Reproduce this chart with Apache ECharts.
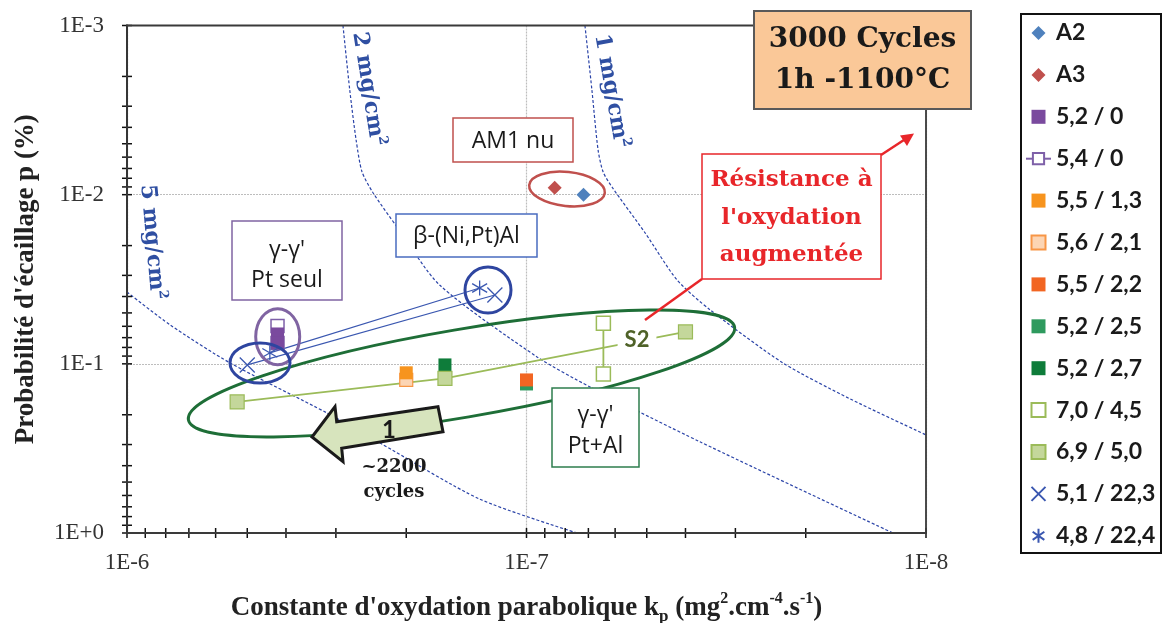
<!DOCTYPE html>
<html><head><meta charset="utf-8">
<script src="https://cdn.jsdelivr.net/npm/echarts@6/dist/echarts.min.js"></script>
<style>html,body{margin:0;padding:0;background:#fff}#c{width:1163px;height:623px}</style>
</head><body><div id="c"></div>
<script>
// ---------------- DATA ----------------
const xDecades = [1e-8, 1e-7, 1e-6];
const yDecades = [1e-3, 1e-2, 1e-1, 1];
const minorFactors = [2, 3, 4, 5, 6, 7, 8, 9];

const legendNames = ['A2', 'A3', '5,2 / 0', '5,4 / 0', '5,5 / 1,3', '5,6 / 2,1', '5,5 / 2,2',
  '5,2 / 2,5', '5,2 / 2,7', '7,0 / 4,5', '6,9 / 5,0', '5,1 / 22,3', '4,8 / 22,4'];

// [kp, p]
const A2 = [[7.2e-8, 0.0100]];
const A3 = [[8.5e-8, 0.0091]];
const s52_0 = [[4.2e-7, 0.0666], [4.2e-7, 0.0752]];
const s54_0 = [[4.2e-7, 0.0597], [4.2e-7, 0.0752]];
const s55_13 = [[2.0e-7, 0.113]];
const s56_21 = [[2.0e-7, 0.1245]];
const s55_22 = [[1.0e-7, 0.1245]];
const s52_25 = [[1.0e-7, 0.1315]];
const s52_27 = [[1.6e-7, 0.1015]];
const s70_45 = [[6.42e-8, 0.0575], [6.42e-8, 0.1147]];
const s69_50 = [[5.3e-7, 0.168], [1.6e-7, 0.122], [4.0e-8, 0.0648]];
const s51_223 = [[5.0e-7, 0.1015], [1.2e-7, 0.0392]];
const s48_224 = [[4.39e-7, 0.0862], [1.31e-7, 0.0356]];

// iso mass-gain curves
const curve1mg = [[7.14e-8, 1.0e-3], [6.86e-8, 2.40e-3], [6.62e-8, 5.44e-3], [6.43e-8, 7.34e-3],
  [6.11e-8, 9.01e-3], [5.05e-8, 0.0168], [4.20e-8, 0.0319], [3.47e-8, 0.0480], [2.28e-8, 0.0988],
  [1.55e-8, 0.161], [1.0e-8, 0.263]];
const curve2mg = [[2.88e-7, 1.0e-3], [2.77e-7, 2.40e-3], [2.67e-7, 4.75e-3], [2.58e-7, 7.34e-3],
  [2.42e-7, 9.77e-3], [2.11e-7, 0.0155], [1.65e-7, 0.0342], [9.41e-8, 0.0910], [6.93e-8, 0.137],
  [3.68e-8, 0.289], [1.21e-8, 1.0]];
const curve5mg = [[1.0e-6, 0.0376], [7.80e-7, 0.0589], [5.52e-7, 0.0988], [3.16e-7, 0.195],
  [2.33e-7, 0.293], [1.31e-7, 0.630], [7.47e-8, 1.0]];

// ---------------- CHART ----------------
const chart = echarts.init(document.getElementById('c'), null, {renderer: 'canvas'});

const xTicks = [], yTicks = [];
xDecades.forEach((d, i) => { xTicks.push([d, 1]); if (i < xDecades.length - 1) minorFactors.forEach(f => xTicks.push([d * f, 1])); });
yDecades.forEach((d, i) => { yTicks.push([1e-6, d]); if (i < yDecades.length - 1) minorFactors.forEach(f => yTicks.push([1e-6, d * f])); });

const fmt = v => { const e = Math.round(Math.log10(v)); return '1E' + (e >= 0 ? '+' + e : e); };

const sq = 'path://M0,0H10V10H0Z';
const dia = 'path://M5,0L10,5L5,10L0,5Z';
const cross = 'path://M0,0L10,10M10,0L0,10';
const star = 'path://M5,-1L5,11M0,1.5L10,8.5M0,8.5L10,1.5';
const BLUE = '#3A57B0';

function marker(name, data, sym, size, style, z) {
  return {name, type: 'scatter', data, symbol: sym, symbolSize: size, itemStyle: Object.assign({opacity: 1}, style), z: z || 3, silent: true};
}
function connector(name, data, color, width) {
  return {name, type: 'line', data, symbol: 'none', lineStyle: {color, width}, z: 2, silent: true};
}
function curve(name, data) {
  return {name, type: 'line', data, symbol: 'none', smooth: 0.25,
    lineStyle: {color: '#2B44A8', width: 1.2, type: [3, 2]}, z: 1, silent: true};
}

const serif = 'Liberation Serif';
const sb = {fontFamily: serif, fontWeight: 'bold', color: '#222'};

const option = {
  animation: false,
  backgroundColor: '#fff',
  grid: {left: 127, right: 237, top: 25.5, bottom: 90, show: false, outerBoundsMode: 'none'},
  xAxis: {
    type: 'log', logBase: 10, min: 1e-8, max: 1e-6, inverse: true,
    axisLine: {show: true, onZero: false, lineStyle: {color: '#111', width: 2}},
    axisTick: {show: false}, minorTick: {show: false},
    splitLine: {show: true, lineStyle: {color: '#BDBDBD', width: 1.2, type: [2, 1]}},
    axisLabel: {formatter: fmt, fontFamily: serif, fontSize: 23, color: '#333', margin: 18},
    name: "{b|Constante d'oxydation parabolique k}{sub|p}{b| (mg}{sup|2}{b|.cm}{sup|-4}{b|.s}{sup|-1}{b|)}",
    nameLocation: 'middle', nameGap: 58,
    nameTextStyle: {rich: {
      b: Object.assign({fontSize: 27, lineHeight: 34}, sb),
      sub: Object.assign({fontSize: 17, lineHeight: 17, verticalAlign: 'bottom'}, sb),
      sup: Object.assign({fontSize: 16, lineHeight: 16, verticalAlign: 'top'}, sb)
    }}
  },
  yAxis: {
    type: 'log', logBase: 10, min: 1e-3, max: 1, inverse: true,
    axisLine: {show: true, onZero: false, lineStyle: {color: '#111', width: 2}},
    axisTick: {show: false}, minorTick: {show: false},
    splitLine: {show: true, lineStyle: {color: '#BDBDBD', width: 1.2, type: [2, 1]}},
    axisLabel: {formatter: fmt, fontFamily: serif, fontSize: 23, color: '#333', margin: 23},
    name: "{b|Probabilité d'écaillage p (%)}",
    nameLocation: 'middle', nameGap: 84,
    nameTextStyle: {rich: {b: Object.assign({fontSize: 27, lineHeight: 34}, sb)}}
  },
  legend: {
    show: true, orient: 'vertical', left: 1025, top: 21, padding: 0,
    itemWidth: 25, itemHeight: 14, itemGap: 17.9, symbolKeepAspect: true, selectedMode: false,
    textStyle: {fontFamily: 'Lato', fontWeight: 'bold', fontSize: 23, lineHeight: 24, color: '#1a1a1a'},
    data: [
      {name: 'A2', icon: dia}, {name: 'A3', icon: dia}, {name: '5,2 / 0', icon: sq}, {name: '5,4 / 0'},
      {name: '5,5 / 1,3', icon: sq}, {name: '5,6 / 2,1', icon: sq}, {name: '5,5 / 2,2', icon: sq},
      {name: '5,2 / 2,5', icon: sq}, {name: '5,2 / 2,7', icon: sq}, {name: '7,0 / 4,5', icon: sq},
      {name: '6,9 / 5,0', icon: sq}, {name: '5,1 / 22,3', icon: cross}, {name: '4,8 / 22,4', icon: star}
    ]
  },
  series: [
    curve('c1', curve1mg), curve('c2', curve2mg), curve('c5', curve5mg),
    connector('l54', s54_0, '#7E60A8', 1.5),
    connector('l70', s70_45, '#9BBB59', 1.8),
    connector('l69', s69_50, '#9BBB59', 1.8),
    connector('l51', s51_223, BLUE, 1.2),
    connector('l48', s48_224, BLUE, 1.2),
    marker('A2', A2, 'diamond', 14, {color: '#4F81BD'}),
    marker('A3', A3, 'diamond', 14, {color: '#C0504D'}),
    {name: '5,4 / 0', type: 'line', data: s54_0, symbol: 'rect', symbolSize: 13, showAllSymbol: true,
      itemStyle: {color: '#fff', borderColor: '#7E60A8', borderWidth: 1.5, opacity: 1}, lineStyle: {color: '#7E60A8', width: 1.5}, z: 3, silent: true},
    marker('5,2 / 0', s52_0, 'rect', 13, {color: '#7A4A9E'}, 4),
    marker('5,6 / 2,1', s56_21, 'rect', 13, {color: '#FCD5B4', borderColor: '#F79646', borderWidth: 1.2}, 3),
    marker('5,5 / 1,3', s55_13, 'rect', 13, {color: '#F7941E'}, 4),
    marker('5,2 / 2,5', s52_25, 'rect', 13, {color: '#2E9A5E'}, 3),
    marker('5,5 / 2,2', s55_22, 'rect', 13, {color: '#F26522'}, 4),
    marker('5,2 / 2,7', s52_27, 'rect', 13, {color: '#0E7C3A'}, 3),
    marker('7,0 / 4,5', s70_45, 'rect', 14, {color: '#fff', borderColor: '#9BBB59', borderWidth: 1.5}, 3),
    marker('6,9 / 5,0', s69_50, 'rect', 14, {color: '#C4D79B', borderColor: '#9BBB59', borderWidth: 1.2}, 4),
    marker('5,1 / 22,3', s51_223, cross, 15, {color: 'transparent', borderColor: BLUE, borderWidth: 1.3}, 4),
    marker('4,8 / 22,4', s48_224, star, 15, {color: 'transparent', borderColor: BLUE, borderWidth: 1.3}, 4),
    {name: 'xticks', type: 'custom', data: xTicks, clip: false, silent: true, z: 5,
      renderItem: (p, api) => { const c = api.coord([api.value(0), api.value(1)]);
        return {type: 'line', shape: {x1: c[0], y1: c[1] - 5, x2: c[0], y2: c[1] + 5}, style: {stroke: '#111', lineWidth: 1.5}}; }},
    {name: 'yticks', type: 'custom', data: yTicks, clip: false, silent: true, z: 5,
      renderItem: (p, api) => { const c = api.coord([api.value(0), api.value(1)]);
        return {type: 'line', shape: {x1: c[0] - 5, y1: c[1], x2: c[0] + 5, y2: c[1]}, style: {stroke: '#111', lineWidth: 1.5}}; }}
  ],
  graphic: []
};

// ---------------- ANNOTATIONS ----------------
const G = option.graphic;
const sans = 'Open Sans';
function box(x, y, w, h, stroke, lines, cx, ys, font) {
  G.push({type: 'rect', shape: {x, y, width: w, height: h}, style: {fill: '#fff', stroke, lineWidth: 1.5}, z: 60});
  lines.forEach((t, i) => G.push({type: 'text', x: cx, y: ys[i], z: 61,
    style: Object.assign({text: t, align: 'center', verticalAlign: 'middle', fill: '#1a1a1a', fontFamily: sans, fontSize: 23}, font || {})}));
}
function ell(cx, cy, rx, ry, rot, stroke, lw) {
  G.push({type: 'ellipse', x: cx, y: cy, rotation: rot, shape: {cx: 0, cy: 0, rx, ry}, style: {fill: 'none', stroke, lineWidth: lw}, z: 50});
}
function rotLabel(text, cx, cy, rotDeg) {
  G.push({type: 'text', x: cx, y: cy, rotation: -rotDeg * Math.PI / 180, z: 40,
    style: {text: '{a|' + text + '}{s|2}', align: 'center', verticalAlign: 'middle',
      rich: {a: {fontFamily: 'DejaVu Serif', fontWeight: 'bold', fontSize: 22, lineHeight: 26, fill: '#2F4FA2', color: '#2F4FA2'},
             s: {fontFamily: 'DejaVu Serif', fontWeight: 'bold', fontSize: 13, lineHeight: 13, verticalAlign: 'top', fill: '#2F4FA2', color: '#2F4FA2'}}}});
}

// plot frame
G.push({type: 'rect', z: 30, shape: {x: 127, y: 25.5, width: 799, height: 507.5}, style: {fill: 'none', stroke: '#3a3a3a', lineWidth: 1.8}});

// ellipses
ell(461.5, 373.5, 277, 44, 0.168, '#1E6E37', 3);
ell(567, 189, 38, 17, -0.105, '#C0504D', 2.5);
ell(277.7, 336.7, 22, 28, 0, '#8064A2', 3);
ell(260, 363, 30, 20, 0, '#2E45A0', 3);
ell(488, 290, 23, 23, 0, '#2E45A0', 3);

// curve labels
rotLabel('5 mg/cm', 152, 242, 85);
rotLabel('2 mg/cm', 368, 89, 81);
rotLabel('1 mg/cm', 611, 91, 80);

// text boxes
box(453, 118, 120, 44, '#C0504D', ['AM1 nu'], 513, [141]);
box(396, 214, 141, 43, '#4A6CC0', ['β-(Ni,Pt)Al'], 466.5, [236]);
box(232, 221, 110, 79, '#8064A2', ["γ-γ'", 'Pt seul'], 287, [250, 280]);
box(552, 388, 87, 79, '#2E7D4E', ["γ-γ'", 'Pt+Al'], 595.5, [415, 446]);

// S2 label
G.push({type: 'text', x: 637, y: 340, z: 45, style: {text: 'S2', align: 'center', verticalAlign: 'middle',
  fontFamily: 'Lato', fontWeight: 'bold', fontSize: 22, fill: '#4F6228', backgroundColor: '#fff', padding: [2, 7]}});

// big arrow
G.push({type: 'polygon', z: 70, shape: {points: [[312, 437], [335, 406.7], [336.7, 421.7], [438, 406.7], [443, 431.7], [341.7, 448.3], [343, 461.7]]},
  style: {fill: '#D7E4BD', stroke: '#1a1a1a', lineWidth: 3, lineJoin: 'miter'}});
G.push({type: 'text', x: 389, y: 430, z: 71, style: {text: '1', align: 'center', verticalAlign: 'middle', fontFamily: 'Lato', fontWeight: 'bold', fontSize: 24, fill: '#1a1a1a'}});
G.push({type: 'text', x: 394, y: 467, z: 71, style: {text: '~2200', align: 'center', verticalAlign: 'middle', fontFamily: 'DejaVu Serif', fontWeight: 'bold', fontSize: 18, fill: '#1a1a1a'}});
G.push({type: 'text', x: 394, y: 492, z: 71, style: {text: 'cycles', align: 'center', verticalAlign: 'middle', fontFamily: 'DejaVu Serif', fontWeight: 'bold', fontSize: 18, fill: '#1a1a1a'}});

// 3000 cycles box
G.push({type: 'rect', z: 80, shape: {x: 754, y: 11, width: 217, height: 98}, style: {fill: '#FAC898', stroke: '#595959', lineWidth: 2}});
G.push({type: 'text', x: 862.5, y: 40, z: 81, style: {text: '3000 Cycles', align: 'center', verticalAlign: 'middle', fontFamily: 'DejaVu Serif', fontWeight: 'bold', fontSize: 28, fill: '#1a1a1a'}});
G.push({type: 'text', x: 862.5, y: 81, z: 81, style: {text: '1h -1100°C', align: 'center', verticalAlign: 'middle', fontFamily: 'DejaVu Serif', fontWeight: 'bold', fontSize: 28, fill: '#1a1a1a'}});

// résistance box + arrows
const RED = '#E8262A';
G.push({type: 'line', z: 65, shape: {x1: 702, y1: 279, x2: 645, y2: 320}, style: {stroke: RED, lineWidth: 2.5}});
G.push({type: 'line', z: 65, shape: {x1: 881, y1: 155, x2: 910, y2: 136}, style: {stroke: RED, lineWidth: 2.5}});
G.push({type: 'polygon', z: 65, shape: {points: [[914, 133.5], [900, 135.5], [907, 146]]}, style: {fill: RED}});
box(702, 154, 179, 125, RED, ['Résistance à', "l'oxydation", 'augmentée'], 791.5, [180, 218, 255],
  {fill: RED, fontFamily: 'DejaVu Serif', fontWeight: 'bold', fontSize: 23});

// legend frame
G.push({type: 'rect', z: 1, shape: {x: 1021, y: 14, width: 140, height: 539}, style: {fill: 'none', stroke: '#111', lineWidth: 2}});

chart.setOption(option);
</script>
</body></html>
